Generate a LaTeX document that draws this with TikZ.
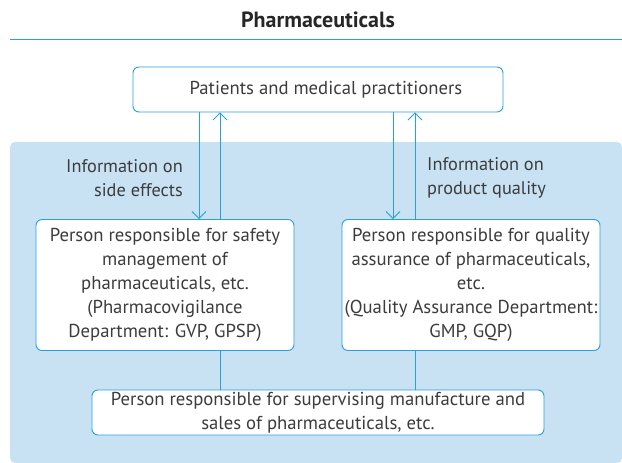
\documentclass[tikz,border=0pt]{standalone}
\usepackage{fontspec}
\setmainfont{PT Sans}
\usetikzlibrary{arrows.meta}
\definecolor{lineblue}{RGB}{40,160,220}
\definecolor{bgblue}{RGB}{200,226,244}
\definecolor{txt}{RGB}{60,60,60}
\tikzset{
  box/.style={draw=lineblue, line width=0.9pt, fill=white, rounded corners=6pt, inner sep=0pt, align=center, text=txt, font=\fontsize{18.7}{24}\selectfont},
  lbl/.style={text=txt, font=\fontsize{18.3}{24}\selectfont, inner sep=0pt},
  conn/.style={draw=lineblue, line width=0.8pt},
  arr/.style={conn, -{Straight Barb[length=7pt, width=14pt, line width=0.8pt]}}
}
\begin{document}
\begin{tikzpicture}[x=1pt, y=-1pt]
\useasboundingbox (0,0) rectangle (622,463);
% title
\node[font=\bfseries\fontsize{22}{24}\selectfont, text=black!85] (title) at (318,20) {Pharmaceuticals};
\draw[draw=lineblue, line width=0.9pt] (10,39) -- (622,39);
% background
\fill[bgblue, rounded corners=5pt] (10,463) -- (10,142) -- (622,142) -- (622,463) -- cycle;
% boxes
\node[box, minimum width=370pt, minimum height=45pt] (top) at (318,89.5) {\hspace*{16pt}Patients and medical practitioners};
\node[box, minimum width=258pt, minimum height=131pt] (left) at (165,285) {Person responsible for safety\\management of\\pharmaceuticals, etc.\\(Pharmacovigilance\\Department: GVP, GPSP)};
\node[box, minimum width=258pt, minimum height=131pt] (right) at (471,285) {Person responsible for quality\\assurance of pharmaceuticals,\\etc.\\(Quality Assurance Department:\\GMP, GQP)};
\node[box, minimum width=452pt, minimum height=45pt] (bot) at (318,412.5) {Person responsible for supervising manufacture and\\sales of pharmaceuticals, etc.};
% connectors
\draw[arr] (top.south -| 199,0) -- (left.north -| 199,0);
\draw[arr] (left.north -| 220,0) -- (top.south -| 220,0);
\draw[arr] (top.south -| 393,0) -- (right.north -| 393,0);
\draw[arr] (right.north -| 415,0) -- (top.south -| 415,0);
\draw[conn] (left.south -| 220,0) -- (bot.north -| 220,0);
\draw[conn] (right.south -| 415,0) -- (bot.north -| 415,0);
% labels
\node[lbl, align=right, anchor=east] (l1) at (183,178) {Information on\\side effects};
\node[lbl, align=left, anchor=west] (l2) at (427,178) {Information on\\product quality};
\end{tikzpicture}
\end{document}
